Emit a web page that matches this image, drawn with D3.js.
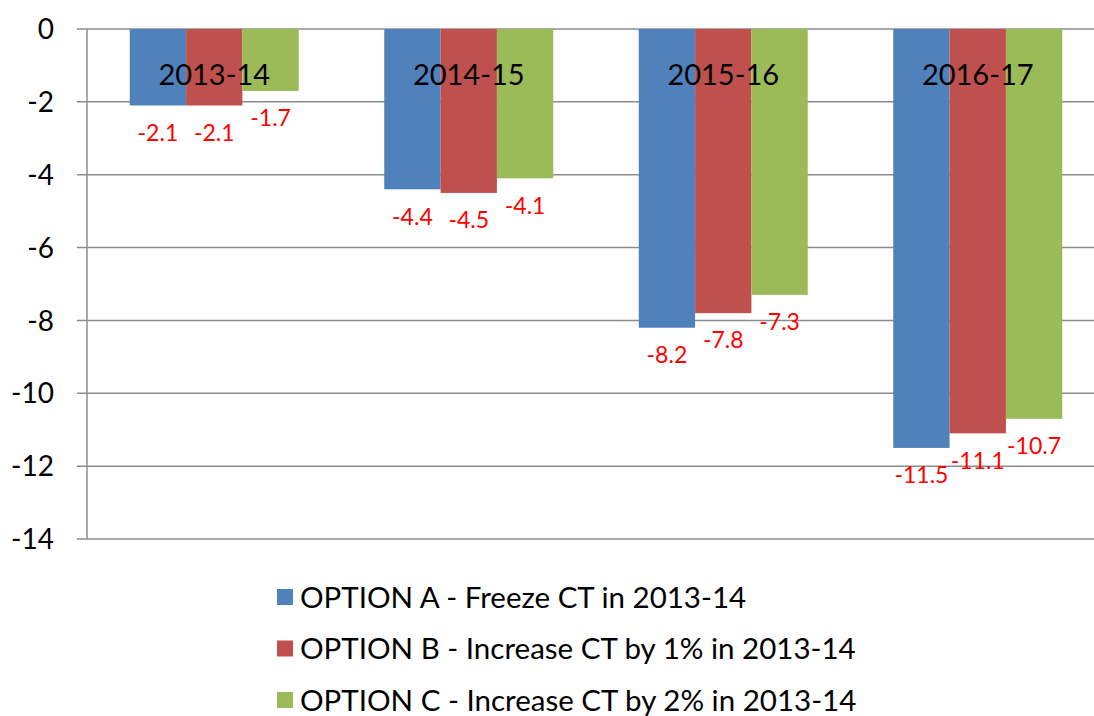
<!DOCTYPE html>
<html>
<head>
<meta charset="utf-8">
<script src="https://cdn.jsdelivr.net/npm/d3@7"></script>
<style>
  body { margin: 0; background: #fff; }
  text { font-family: Lato, "Open Sans", sans-serif; }
</style>
</head>
<body>
<svg id="chart" width="1094" height="716"></svg>
<script>
var categories = ['2013-14', '2014-15', '2015-16', '2016-17'];
var seriesNames = [
  'OPTION A - Freeze CT in 2013-14',
  'OPTION B - Increase CT by 1% in 2013-14',
  'OPTION C - Increase CT by 2% in 2013-14'
];
var optionA = [-2.1, -4.4, -8.2, -11.5];
var optionB = [-2.1, -4.5, -7.8, -11.1];
var optionC = [-1.7, -4.1, -7.3, -10.7];
var yTicks = [0, -2, -4, -6, -8, -10, -12, -14];
var colors = ['#4f81bd', '#c0504d', '#9bbb59'];

var series = [optionA, optionB, optionC];
var margin = {left: 87, top: 29, right: -11, bottom: 177};
var width = 1094 - margin.left - margin.right;
var height = 716 - margin.top - margin.bottom;

var svg = d3.select('#chart');
var g = svg.append('g')
  .attr('transform', 'translate(' + margin.left + ',' + margin.top + ')');

var x0 = d3.scaleBand().domain(categories).range([0, width]).paddingInner(0.336).paddingOuter(0.168);
var x1 = d3.scaleBand().domain(d3.range(series.length)).range([0, x0.bandwidth()]);
var y = d3.scaleLinear().domain([0, -14]).range([0, height]);

// gridlines
g.selectAll('.grid')
  .data(yTicks)
  .enter().append('line')
  .attr('x1', -10).attr('x2', width)
  .attr('y1', function(d){ return y(d); })
  .attr('y2', function(d){ return y(d); })
  .style('stroke', '#8c8c8c')
  .style('stroke-width', 1.5);

// y axis line
g.append('line')
  .attr('x1', 0).attr('x2', 0)
  .attr('y1', 0).attr('y2', height)
  .style('stroke', '#8c8c8c')
  .style('stroke-width', 1.5);

g.selectAll('.ylab')
  .data(yTicks)
  .enter().append('text')
  .attr('x', -33)
  .attr('y', function(d){ return y(d); })
  .attr('dy', '0.36em')
  .attr('text-anchor', 'end')
  .style('font-size', '28px')
  .style('fill', '#000')
  .text(function(d){ return d; });

// bars
series.forEach(function(vals, si){
  var sg = g.append('g');
  sg.selectAll('rect')
    .data(vals)
    .enter().append('rect')
    .attr('x', function(d, i){ return x0(categories[i]) + x1(si); })
    .attr('y', y(0))
    .attr('width', x1.bandwidth())
    .attr('height', function(d){ return y(d) - y(0); })
    .style('fill', colors[si]);

  sg.selectAll('text')
    .data(vals)
    .enter().append('text')
    .attr('x', function(d, i){ return x0(categories[i]) + x1(si) + x1.bandwidth() / 2; })
    .attr('y', function(d){ return y(d) + 27; })
    .attr('dy', '0.36em')
    .attr('text-anchor', 'middle')
    .style('font-size', '23px')
    .style('fill', '#ff0000')
    .text(function(d){ return d; });
});

// category labels at the top
g.selectAll('.cat')
  .data(categories)
  .enter().append('text')
  .attr('x', function(d){ return x0(d) + x0.bandwidth() / 2; })
  .attr('y', 46)
  .attr('dy', '0.36em')
  .attr('text-anchor', 'middle')
  .style('font-size', '29px')
  .style('fill', '#000')
  .text(function(d){ return d; });

// legend
var legend = svg.append('g').attr('transform', 'translate(277,597)');
seriesNames.forEach(function(name, i){
  var row = legend.append('g').attr('transform', 'translate(0,' + (i * 51.5) + ')');
  row.append('rect')
    .attr('x', 0).attr('y', -8)
    .attr('width', 16).attr('height', 16)
    .style('fill', colors[i]);
  row.append('text')
    .attr('x', 23).attr('y', 0)
    .attr('dy', '0.36em')
    .style('font-size', '29.5px')
    .style('fill', '#000')
    .text(name);
});
</script>
</body>
</html>
